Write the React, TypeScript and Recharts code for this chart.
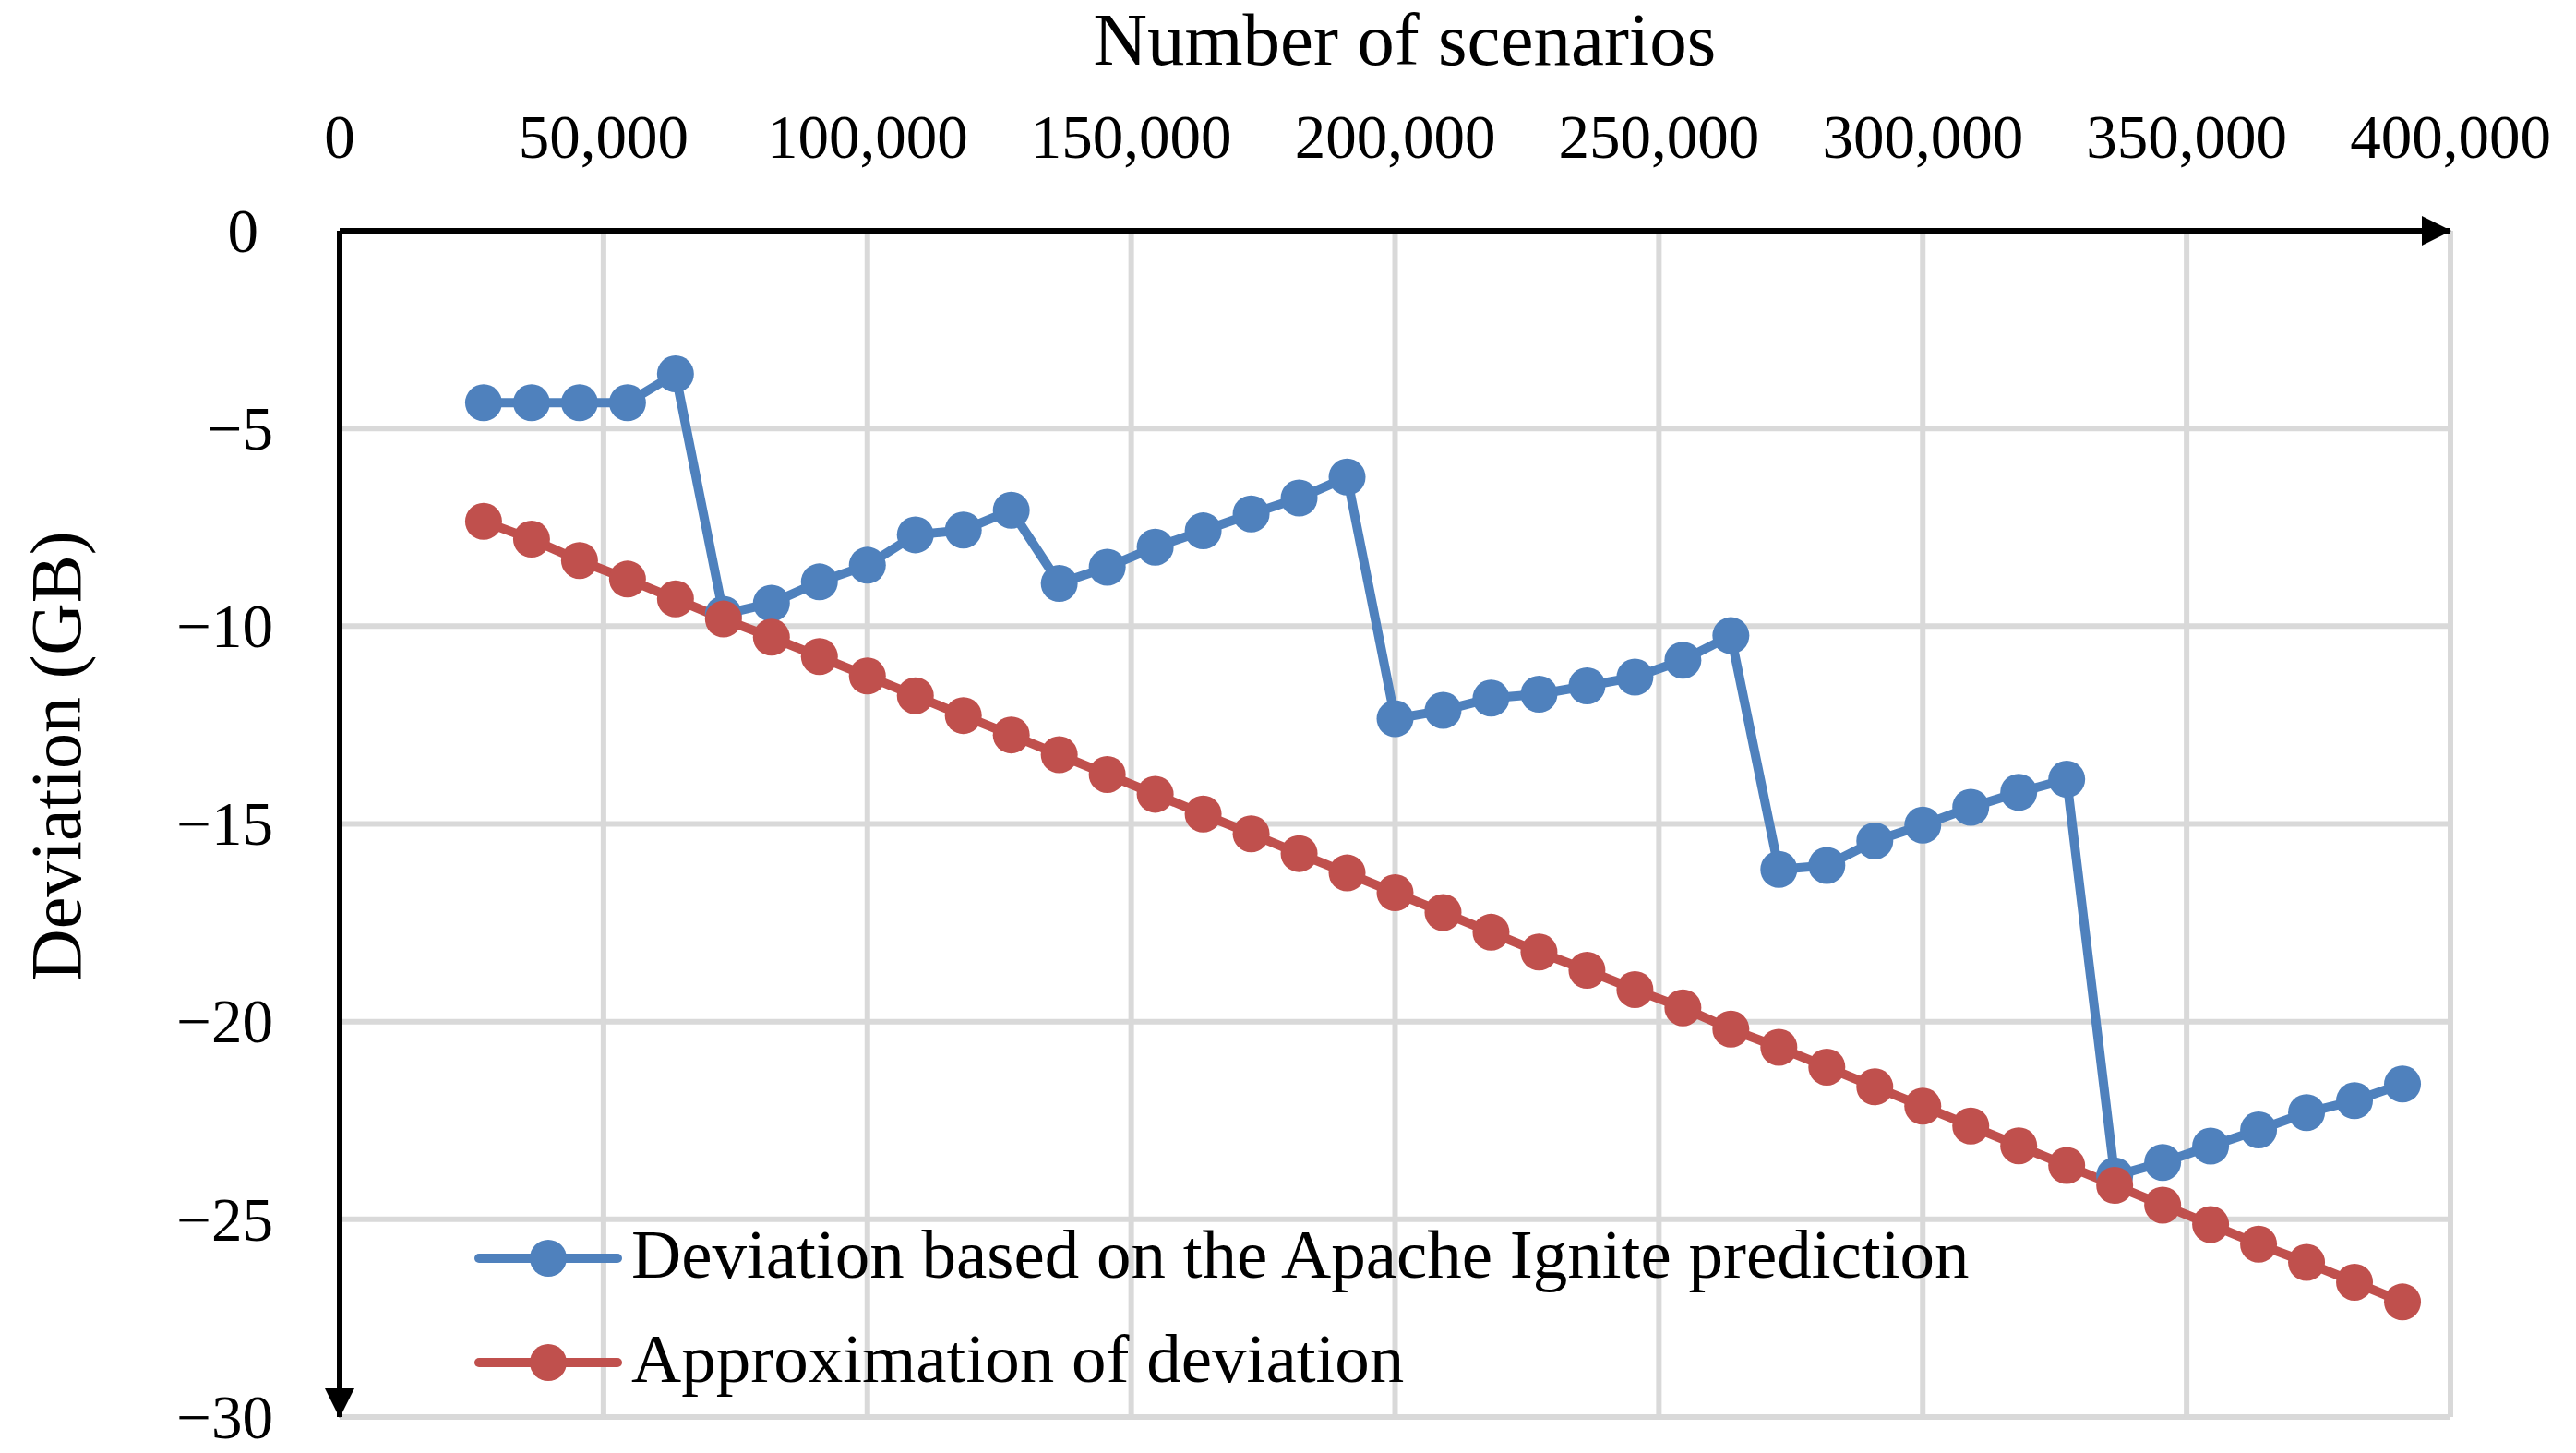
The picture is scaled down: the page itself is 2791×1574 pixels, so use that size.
import { CartesianGrid, Label, Legend, Line, LineChart, XAxis, YAxis } from "recharts";

// number of scenarios (x) for every measured point
const scenarios = [
  27273, 36364, 45455, 54545, 63636, 72727, 81818, 90909, 100000, 109091,
  118182, 127273, 136364, 145455, 154545, 163636, 172727, 181818, 190909, 200000,
  209091, 218182, 227273, 236364, 245455, 254545, 263636, 272727, 281818, 290909,
  300000, 309091, 318182, 327273, 336364, 345455, 354545, 363636, 372727, 381818,
  390909,
];

// deviation based on the Apache Ignite prediction (GB)
const igniteDeviation = [
  -4.35, -4.35, -4.35, -4.35, -3.62, -9.7, -9.42, -8.88, -8.46, -7.69,
  -7.57, -7.07, -8.92, -8.51, -8.0, -7.59, -7.16, -6.76, -6.23, -12.34,
  -12.13, -11.82, -11.72, -11.51, -11.29, -10.86, -10.24, -16.15, -16.05, -15.43,
  -15.03, -14.58, -14.2, -13.87, -23.9, -23.56, -23.15, -22.74, -22.3, -22.0,
  -21.58,
];

// approximation of deviation (GB)
const approxDeviation = [
  -7.35, -7.8, -8.34, -8.81, -9.31, -9.82, -10.28, -10.77, -11.26, -11.76,
  -12.26, -12.75, -13.25, -13.75, -14.25, -14.75, -15.25, -15.75, -16.24, -16.74,
  -17.24, -17.74, -18.24, -18.7, -19.19, -19.65, -20.19, -20.65, -21.15, -21.65,
  -22.14, -22.64, -23.14, -23.64, -24.14, -24.64, -25.13, -25.63, -26.09, -26.59,
  -27.09,
];

const xTicks = [0, 50000, 100000, 150000, 200000, 250000, 300000, 350000, 400000];
const yTicks = [0, -5, -10, -15, -20, -25, -30];

const IGNITE_NAME = "Deviation based on the Apache Ignite prediction";
const APPROX_NAME = "Approximation of deviation";
const legendOrder = [IGNITE_NAME, APPROX_NAME];

const data = scenarios.map((n, i) => ({
  n,
  ignite: igniteDeviation[i],
  approx: approxDeviation[i],
}));

const FONT = '"Liberation Serif", "Times New Roman", serif';
const BLUE = "#4f81bd";
const RED = "#c0504d";
const GRID = "#d9d9d9";

const XTick = ({ x, y, payload }: any) => (
  <text x={x} y={y - 79} textAnchor="middle" fontFamily={FONT} fontSize={67} fill="#000">
    {Number(payload.value).toLocaleString("en-US")}
  </text>
);

const YTick = ({ x, y, payload }: any) => {
  const v = Number(payload.value);
  return (
    <text
      x={x - (v === 0 ? 88 : 72)}
      y={y}
      dy="0.34em"
      textAnchor="end"
      fontFamily={FONT}
      fontSize={67}
      fill="#000"
    >
      {v === 0 ? "0" : "\u2212" + Math.abs(v)}
    </text>
  );
};

const LegendBox = ({ payload }: any) => {
  const items = [...(payload || [])].sort(
    (a: any, b: any) => legendOrder.indexOf(a.value) - legendOrder.indexOf(b.value)
  );
  return (
    <div style={{ fontFamily: FONT, fontSize: 75, color: "#000" }}>
      {items.map((entry: any) => (
        <div key={entry.value} style={{ display: "flex", alignItems: "center", height: 113 }}>
          <svg width={160} height={44} style={{ display: "block" }}>
            <line x1={5} x2={155} y1={22} y2={22} stroke={entry.color} strokeWidth={10} strokeLinecap="round" />
            <circle cx={80} cy={22} r={20} fill={entry.color} />
          </svg>
          <span style={{ marginLeft: 10, lineHeight: 1, position: "relative", top: -4, whiteSpace: "nowrap" }}>
            {entry.value}
          </span>
        </div>
      ))}
    </div>
  );
};

export default function App() {
  return (
    <div style={{ width: 2770, height: 1556, position: "relative" }}>
      <style>{`.recharts-surface { overflow: visible; }`}</style>
      <svg width={0} height={0} style={{ position: "absolute" }}>
        <defs>
          <marker
            id="axisArrow"
            markerUnits="userSpaceOnUse"
            markerWidth={34}
            markerHeight={34}
            refX={31}
            refY={16}
            orient="auto"
          >
            <path d="M0,0 L32,16 L0,32 Z" fill="#000" />
          </marker>
        </defs>
      </svg>
      <LineChart
        width={2770}
        height={1556}
        data={data}
        margin={{ top: 142, right: 123, bottom: 29, left: 160 }}
      >
        <CartesianGrid stroke={GRID} strokeWidth={6} />
        <XAxis
          dataKey="n"
          type="number"
          orientation="top"
          domain={[0, 400000]}
          ticks={xTicks}
          interval={0}
          height={100}
          tickSize={0}
          tickMargin={0}
          tickLine={false}
          tick={<XTick />}
          axisLine={{ stroke: "#000", strokeWidth: 6, markerEnd: "url(#axisArrow)" }}
        >
          <Label
            content={() => (
              <text x={1514} y={62} textAnchor="middle" fontFamily={FONT} fontSize={81} fill="#000">
                Number of scenarios
              </text>
            )}
          />
        </XAxis>
        <YAxis
          type="number"
          domain={[-30, 0]}
          ticks={yTicks}
          interval={0}
          width={200}
          tickSize={0}
          tickMargin={0}
          tickLine={false}
          tick={<YTick />}
          axisLine={{ stroke: "#000", strokeWidth: 6, markerEnd: "url(#axisArrow)" }}
        >
          <Label
            content={() => (
              <text
                x={79}
                y={811}
                transform="rotate(-90, 79, 811)"
                textAnchor="middle"
                fontFamily={FONT}
                fontSize={78}
                fill="#000"
              >
                Deviation (GB)
              </text>
            )}
          />
        </YAxis>
        <Legend
          layout="vertical"
          align="center"
          verticalAlign="middle"
          itemSorter={null as any}
          content={<LegendBox />}
          wrapperStyle={{ left: 506, top: 1298, width: "auto", height: "auto" }}
        />
        <Line
          dataKey="ignite"
          name={IGNITE_NAME}
          stroke={BLUE}
          strokeWidth={10}
          strokeLinejoin="round"
          dot={{ r: 20, fill: BLUE, stroke: "none" }}
          activeDot={false}
          isAnimationActive={false}
        />
        <Line
          dataKey="approx"
          name={APPROX_NAME}
          stroke={RED}
          strokeWidth={10}
          strokeLinejoin="round"
          dot={{ r: 20, fill: RED, stroke: "none" }}
          activeDot={false}
          isAnimationActive={false}
        />
      </LineChart>
    </div>
  );
}
